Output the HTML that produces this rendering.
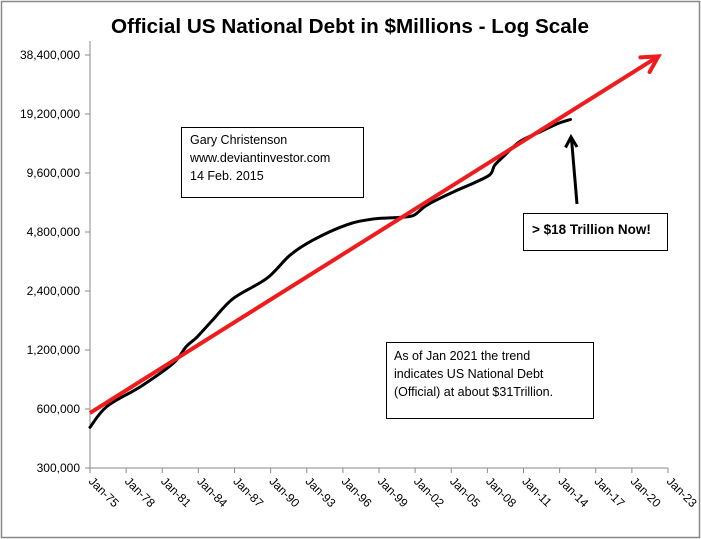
<!DOCTYPE html>
<html><head><meta charset="utf-8">
<style>
html,body{margin:0;padding:0;background:#fff;}
svg{display:block;font-family:"Liberation Sans",sans-serif;}
</style></head>
<body>
<svg id="chart" width="701" height="539" viewBox="0 0 701 539" xmlns="http://www.w3.org/2000/svg">
<rect x="1.5" y="1.5" width="698" height="536" fill="#fff" stroke="#888" stroke-width="1.5"/>
<text x="350" y="33" text-anchor="middle" font-size="20" font-weight="bold" textLength="478" lengthAdjust="spacingAndGlyphs">Official US National Debt in $Millions - Log Scale</text>
<g id="axes"></g>
<g id="marks"></g>
<g>
<rect x="181.5" y="127.5" width="182" height="70" fill="#fff" stroke="#000"/>
<text x="190" y="144" font-size="12.5">Gary Christenson</text>
<text x="190" y="162" font-size="12.5">www.deviantinvestor.com</text>
<text x="190" y="180" font-size="12.5">14 Feb. 2015</text>
</g>
<g>
<rect x="523.5" y="213.5" width="144" height="37" fill="#fff" stroke="#000"/>
<text x="532" y="234" font-size="13.5" font-weight="bold">&gt; $18 Trillion Now!</text>
</g>
<g>
<rect x="386.5" y="342.5" width="207" height="76" fill="#fff" stroke="#000"/>
<text x="394" y="360" font-size="12.5">As of Jan 2021  the trend</text>
<text x="394" y="378" font-size="12.5">indicates US National Debt</text>
<text x="394" y="396" font-size="12.5">(Official) at about $31Trillion.</text>
</g>
</svg>
<script>
const yTicks = [300000, 600000, 1200000, 2400000, 4800000, 9600000, 19200000, 38400000];
const yTickLabels = ["300,000","600,000","1,200,000","2,400,000","4,800,000","9,600,000","19,200,000","38,400,000"];
const xTicks = [1975,1978,1981,1984,1987,1990,1993,1996,1999,2002,2005,2008,2011,2014,2017,2020,2023];
const xTickLabels = ["Jan-75","Jan-78","Jan-81","Jan-84","Jan-87","Jan-90","Jan-93","Jan-96","Jan-99","Jan-02","Jan-05","Jan-08","Jan-11","Jan-14","Jan-17","Jan-20","Jan-23"];
const debtYears = [1975.0,1976.4,1979.2,1981.9,1983.0,1983.9,1985.2,1986.9,1989.7,1991.6,1993.5,1996.3,1998.5,2000.7,2001.9,2003.0,2005.2,2006.8,2008.2,2008.6,2009.3,2010.7,2012.4,2013.8,2014.9];
const debtValues = [484000,618000,781000,1025000,1250000,1400000,1710000,2200000,2790000,3650000,4360000,5220000,5590000,5700000,5850000,6600000,7700000,8500000,9400000,10500000,11600000,13900000,15600000,17100000,18000000];
const trendYears = [1975, 2022.2];
const trendValues = [573000, 37800000];

const NS = "http://www.w3.org/2000/svg";
const X0 = 90, X1 = 668, Y300 = 468, PER_DOUBLE = 59;
function xs(yr){ return X0 + (yr - 1975) / 48 * (X1 - X0); }
function ys(v){ return Y300 - Math.log2(v / 300000) * PER_DOUBLE; }
function mk(tag, attrs, parent){ const e = document.createElementNS(NS, tag); for (const k in attrs) e.setAttribute(k, attrs[k]); parent.appendChild(e); return e; }

const axes = document.getElementById('axes');
const marks = document.getElementById('marks');
const yAxis = mk('line', {x1:X0, y1:41, x2:X0, y2:Y300, stroke:'#888', 'stroke-width':1}, axes);


const xAxis = mk('line', {x1:X0, y1:Y300, x2:X1, y2:Y300, stroke:'#888', 'stroke-width':1}, axes);



yTicks.forEach((v, i) => {
  const y = ys(v);
  mk('line', {x1:X0-5, y1:y, x2:X0, y2:y, stroke:'#888'}, axes);
  const t = mk('text', {x:X0-10, y:y+4, 'text-anchor':'end', 'font-size':12}, axes);
  t.textContent = yTickLabels[i];
  
  
});
xTicks.forEach((yr, i) => {
  const x = xs(yr);
  mk('line', {x1:x, y1:Y300, x2:x, y2:Y300+5, stroke:'#888'}, axes);
  const t = mk('text', {x:x-2, y:Y300+14, 'font-size':12, transform:`rotate(45 ${x-2} ${Y300+14})`}, axes);
  t.textContent = xTickLabels[i];
  
  
});

const P = debtYears.map((yr, i) => [xs(yr), ys(debtValues[i])]);
let d = `M${P[0][0].toFixed(1)},${P[0][1].toFixed(1)}`;
for (let i = 0; i < P.length - 1; i++) {
  const p0 = P[Math.max(0, i-1)], p1 = P[i], p2 = P[i+1], p3 = P[Math.min(P.length-1, i+2)];
  const c1 = [p1[0] + (p2[0]-p0[0])/6, p1[1] + (p2[1]-p0[1])/6];
  const c2 = [p2[0] - (p3[0]-p1[0])/6, p2[1] - (p3[1]-p1[1])/6];
  d += ` C${c1[0].toFixed(1)},${c1[1].toFixed(1)} ${c2[0].toFixed(1)},${c2[1].toFixed(1)} ${p2[0].toFixed(1)},${p2[1].toFixed(1)}`;
}
const debtLine = mk('path', {d:d, fill:'none', stroke:'#000', 'stroke-width':3, 'stroke-linejoin':'round', 'stroke-linecap':'round'}, marks);



const tx0 = xs(trendYears[0]), ty0 = ys(trendValues[0]), tx1 = xs(trendYears[1]), ty1 = ys(trendValues[1]);
const trend = mk('line', {x1:tx0, y1:ty0, x2:tx1, y2:ty1, stroke:'#ee1c1c', 'stroke-width':4}, marks);


const ang = Math.atan2(ty1 - ty0, tx1 - tx0), L = 18;
const ah = mk('polyline', {points:`${tx1 - L*Math.cos(ang-0.5)},${ty1 - L*Math.sin(ang-0.5)} ${tx1},${ty1} ${tx1 - L*Math.cos(ang+0.5)},${ty1 - L*Math.sin(ang+0.5)}`, fill:'none', stroke:'#ee1c1c', 'stroke-width':4, 'stroke-linecap':'round', 'stroke-linejoin':'miter'}, marks);



const ba = mk('g', {}, marks);


mk('line', {x1:577, y1:204, x2:571.5, y2:139, stroke:'#000', 'stroke-width':3}, ba);
mk('polyline', {points:'565.5,147.5 571,137 577,147', fill:'none', stroke:'#000', 'stroke-width':3}, ba);
</script>
</body></html>
